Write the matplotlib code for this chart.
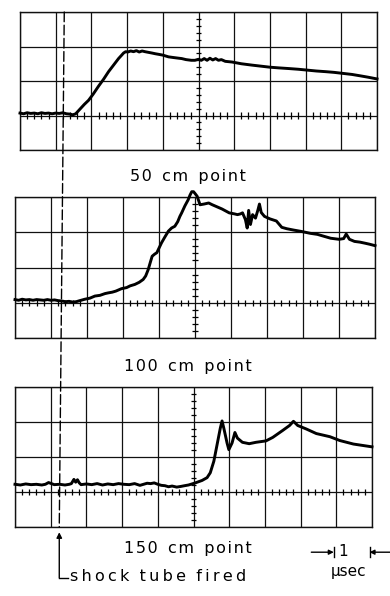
import numpy as np
import matplotlib.pyplot as plt
from matplotlib.patches import ConnectionPatch

# oscilloscope traces in screen divisions
# x: 1 div = 1 usec, y: 0 = baseline (graticule line with ticks)
t_50 = [0.00, 0.10, 0.20, 0.30, 0.40, 0.50, 0.60, 0.70, 0.80, 0.90, 1.00, 1.10, 1.20, 1.30,
        1.40, 1.48, 1.56, 1.64, 1.72, 1.80, 1.92, 2.05, 2.20, 2.34, 2.48, 2.62, 2.76, 2.84,
        2.90, 2.96, 3.02, 3.10, 3.18, 3.26, 3.34, 3.42, 3.50, 3.60, 3.70, 3.79, 3.90, 4.00,
        4.16, 4.30, 4.45, 4.53, 4.65, 4.80, 4.90, 5.00, 5.08, 5.16, 5.24, 5.32, 5.40, 5.48,
        5.56, 5.64, 5.75, 5.94, 6.20, 6.50, 6.75, 7.00, 7.25, 7.54, 7.80, 8.00, 8.30, 8.57,
        8.80, 9.05, 9.30, 9.53, 9.75, 10.00]
v_50 = [0.07, 0.05, 0.08, 0.06, 0.07, 0.05, 0.08, 0.06, 0.07, 0.05, 0.07, 0.06, 0.08, 0.05,
        0.04, 0.02, 0.05, 0.14, 0.23, 0.32, 0.44, 0.62, 0.85, 1.05, 1.27, 1.46, 1.65, 1.74,
        1.81, 1.85, 1.84, 1.87, 1.85, 1.88, 1.84, 1.87, 1.85, 1.83, 1.81, 1.79, 1.77, 1.75,
        1.70, 1.68, 1.66, 1.65, 1.62, 1.60, 1.60, 1.63, 1.60, 1.65, 1.60, 1.66, 1.61, 1.65,
        1.60, 1.62, 1.57, 1.55, 1.50, 1.46, 1.43, 1.40, 1.38, 1.36, 1.34, 1.32, 1.29, 1.27,
        1.25, 1.22, 1.19, 1.15, 1.11, 1.06]

t_100 = [0.00, 0.10, 0.20, 0.30, 0.40, 0.50, 0.60, 0.70, 0.80, 0.90, 1.00, 1.10, 1.20, 1.30,
         1.40, 1.50, 1.60, 1.70, 1.80, 1.94, 2.08, 2.22, 2.36, 2.50, 2.59, 2.70, 2.80, 2.96,
         3.10, 3.20, 3.33, 3.45, 3.56, 3.63, 3.70, 3.76, 3.81, 3.88, 3.94, 4.00, 4.07, 4.16,
         4.26, 4.35, 4.44, 4.52, 4.58, 4.63, 4.72, 4.81, 4.86, 4.91, 4.96, 5.00, 5.06, 5.14,
         5.25, 5.38, 5.48, 5.57, 5.75, 5.95, 6.10, 6.18, 6.26, 6.32, 6.40, 6.45, 6.49, 6.54,
         6.60, 6.68, 6.75, 6.79, 6.84, 6.93, 7.08, 7.26, 7.41, 7.55, 7.75, 7.97, 8.20, 8.40,
         8.60, 8.77, 9.00, 9.13, 9.20, 9.29, 9.43, 9.58, 9.72, 9.85, 10.00]
v_100 = [0.09, 0.07, 0.10, 0.08, 0.09, 0.07, 0.09, 0.08, 0.07, 0.09, 0.07, 0.08, 0.06, 0.05,
         0.03, 0.04, 0.02, 0.03, 0.06, 0.10, 0.13, 0.19, 0.21, 0.26, 0.28, 0.30, 0.33, 0.40,
         0.43, 0.48, 0.52, 0.58, 0.66, 0.76, 0.94, 1.15, 1.32, 1.38, 1.42, 1.55, 1.70, 1.86,
         2.03, 2.12, 2.17, 2.30, 2.45, 2.55, 2.75, 2.92, 3.05, 3.15, 3.15, 3.10, 3.02, 2.78,
         2.80, 2.83, 2.78, 2.74, 2.66, 2.55, 2.52, 2.50, 2.52, 2.55, 2.36, 2.12, 2.62, 2.22,
         2.50, 2.40, 2.64, 2.80, 2.56, 2.45, 2.38, 2.32, 2.14, 2.10, 2.06, 2.02, 1.97, 1.94,
         1.88, 1.83, 1.80, 1.82, 1.95, 1.80, 1.74, 1.72, 1.69, 1.66, 1.62]

t_150 = [0.00, 0.15, 0.30, 0.45, 0.60, 0.75, 0.85, 0.94, 1.02, 1.10, 1.25, 1.40, 1.52, 1.58,
         1.65, 1.70, 1.75, 1.80, 1.85, 2.00, 2.15, 2.30, 2.45, 2.60, 2.75, 2.90, 3.05, 3.20,
         3.35, 3.50, 3.60, 3.70, 3.80, 3.90, 4.00, 4.10, 4.20, 4.30, 4.40, 4.53, 4.65, 4.75,
         4.86, 5.05, 5.24, 5.38, 5.47, 5.57, 5.66, 5.75, 5.80, 5.85, 5.94, 5.99, 6.08, 6.16,
         6.23, 6.37, 6.56, 6.75, 7.03, 7.22, 7.50, 7.69, 7.80, 7.92, 8.16, 8.44, 8.82, 9.10,
         9.48, 10.00]
v_150 = [0.22, 0.20, 0.23, 0.21, 0.22, 0.20, 0.22, 0.27, 0.24, 0.21, 0.22, 0.20, 0.22, 0.24,
         0.36, 0.28, 0.35, 0.26, 0.21, 0.23, 0.21, 0.24, 0.20, 0.23, 0.21, 0.24, 0.22, 0.21,
         0.24, 0.19, 0.22, 0.25, 0.24, 0.26, 0.22, 0.19, 0.18, 0.15, 0.17, 0.14, 0.16, 0.18,
         0.20, 0.26, 0.33, 0.41, 0.55, 0.88, 1.35, 1.82, 2.03, 1.82, 1.40, 1.21, 1.40, 1.70,
         1.54, 1.42, 1.38, 1.42, 1.46, 1.56, 1.76, 1.90, 2.02, 1.90, 1.80, 1.67, 1.58, 1.47,
         1.37, 1.29]

traces = [(t_50, v_50), (t_100, v_100), (t_150, v_150)]
labels = ["50 cm point", "100 cm point", "150 cm point"]
label_y = [177, 366, 549]       # px from top
fired_at = 1.24                 # div, where the shock tube was fired

W, H = 390, 596
# panel boxes in px: left, top, width, height
boxes = [(20, 12, 357, 138), (15, 197, 360, 141), (15, 387, 357, 140)]


def spaced(s, gap='\u200a', word='  '):
    # the lettering on the photo is widely tracked
    return word.join(gap.join(w) for w in s.split(' '))


def scope_axes(fig, box):
    l, t, w, h = box
    ax = fig.add_axes([l / W, 1 - (t + h) / H, w / W, h / H])
    ax.set_xlim(0, 10)
    ax.set_ylim(-1, 3)
    ax.set_xticks(range(11))
    ax.set_yticks(range(-1, 4))
    ax.grid(True, color='#111111', lw=0.9)
    ax.tick_params(length=0, labelbottom=False, labelleft=False)
    for s in ax.spines.values():
        s.set_linewidth(1.0)
        s.set_color('#111111')
    # graticule minor ticks on the centre lines
    mx = np.arange(0.2, 10, 0.2)
    mx = mx[np.abs(mx - np.round(mx)) > 0.05]
    ax.vlines(mx, -0.09, 0.09, color='k', lw=0.9)
    my = np.arange(-0.8, 3, 0.2)
    my = my[np.abs(my - np.round(my)) > 0.05]
    ax.hlines(my, 4.92, 5.08, color='k', lw=0.9)
    return ax


fig = plt.figure(figsize=(W / 100, H / 100), dpi=100)
axes = []
for box, (t, v), lab, ly in zip(boxes, traces, labels, label_y):
    ax = scope_axes(fig, box)
    ax.plot(t, v, color='k', lw=2.1, solid_joinstyle='round', clip_on=False, zorder=5)
    fig.text(188 / W, 1 - ly / H, spaced(lab), ha='center', va='center', fontsize=11.5)
    axes.append(ax)

ax1, ax3 = axes[0], axes[2]

# dashed marker line through all three panels
con = ConnectionPatch(xyA=(fired_at, 3), coordsA=ax1.transData,
                      xyB=(fired_at, -1), coordsB=ax3.transData,
                      color='k', lw=1.0, linestyle=(0, (7, 2.5)))
fig.add_artist(con)

# "shock tube fired" arrow
ax3.annotate('', xy=(fired_at, -1.15), xytext=(fired_at, -2.45),
             arrowprops=dict(arrowstyle='-|>', color='k', lw=1.0, mutation_scale=8,
                             shrinkA=0, shrinkB=0), annotation_clip=False)
ax3.plot([fired_at, 1.48], [-2.45, -2.45], color='k', lw=1.0, clip_on=False)
ax3.text(1.55, -2.42, spaced('shock tube fired', '\u2009'), ha='left', va='center',
         fontsize=11.5)

# 1 usec scale mark
bar_l, bar_r = 8.93, 9.93
ax3.plot([bar_l, bar_l], [-1.58, -1.86], color='k', lw=1.0, clip_on=False)
ax3.plot([bar_r, bar_r], [-1.58, -1.86], color='k', lw=1.0, clip_on=False)
ax3.annotate('', xy=(bar_l, -1.72), xytext=(8.3, -1.72),
             arrowprops=dict(arrowstyle='-|>', color='k', lw=1.0, mutation_scale=7,
                             shrinkA=0, shrinkB=0), annotation_clip=False)
ax3.annotate('', xy=(bar_r, -1.72), xytext=(10.55, -1.72),
             arrowprops=dict(arrowstyle='-|>', color='k', lw=1.0, mutation_scale=7,
                             shrinkA=0, shrinkB=0), annotation_clip=False)
ax3.text(9.2, -1.70, '1', ha='center', va='center', fontsize=11)
ax3.text(9.33, -2.28, 'μsec', ha='center', va='center', fontsize=11)

fig.savefig('out.png', dpi=100, facecolor='white')
